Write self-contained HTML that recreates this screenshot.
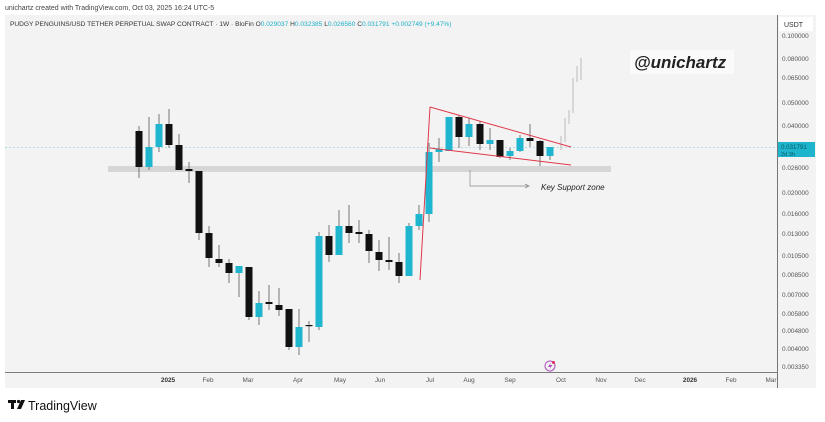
<!DOCTYPE html>
<html><head><meta charset="utf-8"><style>
html,body{margin:0;padding:0;background:#fff;width:825px;height:422px;overflow:hidden}
svg{display:block}
text{font-family:"Liberation Sans",sans-serif}
</style></head><body>
<svg width="825" height="422" viewBox="0 0 825 422" xmlns="http://www.w3.org/2000/svg">
<rect x="0" y="0" width="825" height="422" fill="#fff"/>
<text x="5" y="10" font-size="7" fill="#444">unichartz created with TradingView.com, Oct 03, 2025 16:24 UTC-5</text>
<rect x="5" y="15" width="811" height="373" fill="#f3f3f3"/>
<text x="10" y="26" font-size="6.6" fill="#333">PUDGY PENGUINS/USD TETHER PERPETUAL SWAP CONTRACT · 1W · BloFin <tspan fill="#333">O</tspan><tspan fill="#1fb0c8">0.029037</tspan> H<tspan fill="#1fb0c8">0.032385</tspan> L<tspan fill="#1fb0c8">0.026560</tspan> C<tspan fill="#1fb0c8">0.031791</tspan> <tspan fill="#1fb0c8">+0.002749 (+9.47%)</tspan></text>
<line x1="777.5" y1="15" x2="777.5" y2="388" stroke="#555" stroke-width="0.8"/>
<line x1="5" y1="372.5" x2="777" y2="372.5" stroke="#555" stroke-width="0.8"/>
<rect x="779" y="17" width="34" height="14" fill="#fff"/>
<text x="784" y="27" font-size="7" fill="#333">USDT</text>
<g font-size="6.4" fill="#555">
<text x="782" y="38">0.100000</text>
<text x="782" y="61">0.080000</text>
<text x="782" y="80">0.065000</text>
<text x="782" y="105">0.050000</text>
<text x="782" y="128">0.040000</text>
<text x="782" y="170">0.026000</text>
<text x="782" y="195">0.020000</text>
<text x="782" y="216">0.016000</text>
<text x="782" y="236">0.013000</text>
<text x="782" y="258">0.010500</text>
<text x="782" y="277">0.008500</text>
<text x="782" y="297">0.007000</text>
<text x="782" y="316">0.005800</text>
<text x="782" y="333">0.004800</text>
<text x="782" y="351">0.004000</text>
<text x="782" y="369">0.003350</text>
</g>
<rect x="778" y="142" width="37" height="15" fill="#1eb4cc"/>
<text x="781" y="149" font-size="6.2" fill="#0a5a68">0.031791</text>
<text x="781" y="156" font-size="5.6" fill="#0a5a68">2d 3h</text>
<g font-size="6.4" fill="#555" text-anchor="middle">
<text x="168" y="382" font-weight="bold" fill="#333">2025</text>
<text x="208" y="382">Feb</text><text x="248" y="382">Mar</text><text x="298" y="382">Apr</text>
<text x="340" y="382">May</text><text x="380" y="382">Jun</text><text x="430" y="382">Jul</text>
<text x="469" y="382">Aug</text><text x="510" y="382">Sep</text><text x="561" y="382">Oct</text>
<text x="601" y="382">Nov</text><text x="640" y="382">Dec</text>
<text x="690" y="382" font-weight="bold" fill="#333">2026</text>
<text x="731" y="382">Feb</text><text x="771" y="382">Mar</text>
</g>
<rect x="108" y="166" width="503" height="6" fill="#d6d6d6"/>
<line x1="5" y1="147.5" x2="777" y2="147.5" stroke="#9fd8e4" stroke-width="0.8" stroke-dasharray="2,2"/>
<rect x="630" y="50" width="104" height="24" fill="#fafafa"/>
<text x="634" y="68" font-size="17" font-weight="bold" font-style="italic" fill="#222">@unichartz</text>
<polyline points="470,170 470,186 528,186" fill="none" stroke="#888" stroke-width="0.7"/>
<polyline points="525,184 529,186 525,188" fill="none" stroke="#888" stroke-width="0.7"/>
<text x="541" y="190" font-size="8" font-style="italic" fill="#222">Key Support zone</text>
<g stroke="#777" stroke-width="1">
<line x1="139" y1="126" x2="139" y2="178"/><line x1="149" y1="117" x2="149" y2="170"/>
<line x1="159" y1="114" x2="159" y2="152"/><line x1="169" y1="109" x2="169" y2="148"/>
<line x1="179" y1="134" x2="179" y2="170"/><line x1="189" y1="162" x2="189" y2="183"/>
<line x1="199" y1="171" x2="199" y2="240"/><line x1="209" y1="226" x2="209" y2="267"/>
<line x1="219" y1="245" x2="219" y2="267"/><line x1="229" y1="259" x2="229" y2="283"/>
<line x1="239" y1="266" x2="239" y2="297"/><line x1="249" y1="267" x2="249" y2="320"/>
<line x1="259" y1="291" x2="259" y2="325"/><line x1="269" y1="285" x2="269" y2="310"/>
<line x1="279" y1="288" x2="279" y2="316"/><line x1="289" y1="309" x2="289" y2="350"/>
<line x1="299" y1="309" x2="299" y2="355"/><line x1="309" y1="321" x2="309" y2="342"/>
<line x1="319" y1="232" x2="319" y2="330"/><line x1="329" y1="225" x2="329" y2="262"/>
<line x1="339" y1="210" x2="339" y2="255"/><line x1="349" y1="205" x2="349" y2="243"/>
<line x1="359" y1="220" x2="359" y2="243"/><line x1="369" y1="230" x2="369" y2="263"/>
<line x1="379" y1="240" x2="379" y2="271"/><line x1="389" y1="237" x2="389" y2="270"/>
<line x1="399" y1="253" x2="399" y2="283"/><line x1="409" y1="223" x2="409" y2="276"/>
<line x1="419" y1="205" x2="419" y2="230"/><line x1="429" y1="143" x2="429" y2="222"/>
<line x1="439" y1="138" x2="439" y2="162"/><line x1="449" y1="117" x2="449" y2="151"/>
<line x1="459" y1="115" x2="459" y2="148"/><line x1="469" y1="118" x2="469" y2="146"/>
<line x1="480" y1="121" x2="480" y2="150"/><line x1="490" y1="128" x2="490" y2="150"/>
<line x1="500" y1="140" x2="500" y2="158"/><line x1="510" y1="148" x2="510" y2="160"/>
<line x1="520" y1="135" x2="520" y2="152"/><line x1="530" y1="124" x2="530" y2="147"/>
<line x1="540" y1="140" x2="540" y2="166"/><line x1="550" y1="147" x2="550" y2="160"/>
</g>
<g stroke="#c8c8c8" stroke-width="1.3">
<line x1="561" y1="136" x2="561" y2="150"/><line x1="565" y1="118" x2="565" y2="142"/>
<line x1="569" y1="110" x2="569" y2="124"/><line x1="573" y1="78" x2="573" y2="113"/>
<line x1="577" y1="66" x2="577" y2="82"/><line x1="581" y1="58" x2="581" y2="80"/>
</g>
<g fill="#111">
<rect x="135.5" y="131" width="7" height="36"/><rect x="165.5" y="124" width="7" height="21"/>
<rect x="175.5" y="145" width="7" height="25"/><rect x="185.5" y="169" width="7" height="2"/>
<rect x="195.5" y="171" width="7" height="62"/><rect x="205.5" y="233" width="7" height="25"/>
<rect x="215.5" y="259" width="7" height="4"/><rect x="225.5" y="263" width="7" height="10"/>
<rect x="245.5" y="267" width="7" height="50"/><rect x="265.5" y="302" width="7" height="2"/>
<rect x="275.5" y="305" width="7" height="5"/><rect x="285.5" y="309" width="7" height="38"/>
<rect x="305.5" y="325" width="7" height="1.2"/>
<rect x="325.5" y="236" width="7" height="19"/><rect x="345.5" y="226" width="7" height="7"/>
<rect x="355.5" y="232" width="7" height="2"/><rect x="365.5" y="234" width="7" height="17"/>
<rect x="375.5" y="252" width="7" height="8"/><rect x="385.5" y="260" width="7" height="2"/>
<rect x="395.5" y="262" width="7" height="14"/>
<rect x="455.5" y="117" width="7" height="20"/><rect x="476.5" y="124" width="7" height="20"/>
<rect x="496.5" y="140" width="7" height="17"/><rect x="526.5" y="138" width="7" height="3"/>
<rect x="536.5" y="141" width="7" height="15"/>
</g>
<g fill="#1fb5cf">
<rect x="145.5" y="147" width="7" height="20"/><rect x="155.5" y="124" width="7" height="23"/>
<rect x="235.5" y="266" width="7" height="7"/><rect x="255.5" y="303" width="7" height="14"/>
<rect x="295.5" y="327" width="7" height="20"/><rect x="315.5" y="236" width="7" height="91"/>
<rect x="335.5" y="226" width="7" height="29"/><rect x="405.5" y="226" width="7" height="50"/>
<rect x="415.5" y="214" width="7" height="12"/><rect x="425.5" y="152" width="7" height="62"/>
<rect x="435.5" y="149" width="7" height="3"/><rect x="445.5" y="117" width="7" height="34"/>
<rect x="465.5" y="124" width="7" height="13"/><rect x="486.5" y="140" width="7" height="4"/>
<rect x="506.5" y="151" width="7" height="5"/><rect x="516.5" y="138" width="7" height="13"/>
<rect x="546.5" y="147" width="7" height="9"/>
</g>
<g stroke="#e0384a" stroke-width="1" fill="none">
<line x1="420" y1="280" x2="430" y2="107"/>
<line x1="430" y1="107" x2="571" y2="147"/>
<line x1="430" y1="148" x2="571" y2="165"/>
</g>
<circle cx="550" cy="366" r="5" fill="none" stroke="#b04fc0" stroke-width="1"/>
<path d="M551 362 L548 367 L550.5 367 L549 370 L552.5 365 L550 365 Z" fill="#b04fc0"/>
<circle cx="553.5" cy="362.5" r="1.5" fill="#e03060"/>
<g fill="#111">
<rect x="8" y="400" width="8" height="3"/><rect x="11" y="400" width="3" height="9"/>
<circle cx="18.5" cy="401.5" r="1.6"/>
<path d="M21 400 L25 400 L21 409 L17 409 Z"/>
</g>
<text x="28" y="410" font-size="12.5" fill="#111">TradingView</text>
</svg>
</body></html>
